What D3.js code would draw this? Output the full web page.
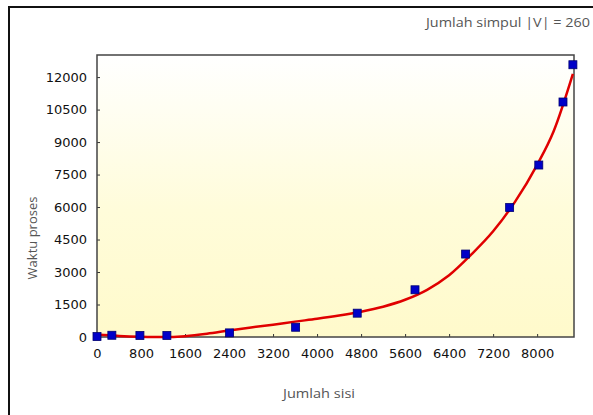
<!DOCTYPE html>
<html>
<head>
<meta charset="utf-8">
<script src="https://cdnjs.cloudflare.com/ajax/libs/d3/7.8.5/d3.min.js"></script>
<style>
  body { margin:0; background:#fff; }
  svg text { font-family: "DejaVu Sans", sans-serif; }
</style>
</head>
<body>
<div id="plot"></div>
<script>
// data
var edges = [0, 270, 780, 1270, 2410, 3610, 4730, 5780, 6700, 7500, 8030, 8470, 8650];
var times = [20, 80, 70, 70, 190, 450, 1100, 2180, 3830, 5980, 7940, 10850, 12570];

// red trend line
var trendX = [0, 400, 800, 1200, 1600, 2000, 2400, 2800, 3200, 3600, 4000, 4400, 4800, 5200, 5600, 6000, 6400, 6800, 7200, 7600, 8000, 8300, 8650];
var trendY = [110, 50, 15, 0, 40, 150, 300, 440, 570, 710, 840, 990, 1170, 1400, 1720, 2180, 2850, 3800, 4880, 6250, 7950, 9500, 12150];

var xTicks = [0, 800, 1600, 2400, 3200, 4000, 4800, 5600, 6400, 7200, 8000];
var yTicks = [0, 1500, 3000, 4500, 6000, 7500, 9000, 10500, 12000];

var W = 593, H = 415;
var m = {t:55, r:19, b:78, l:97};
var width = W - m.l - m.r, height = H - m.t - m.b;

var svg = d3.select('#plot').append('svg')
	.attr('width', W).attr('height', H);

var defs = svg.append('defs');
var grad = defs.append('linearGradient').attr('id','bg')
	.attr('x1',0).attr('y1',0).attr('x2',0).attr('y2',1);
grad.append('stop').attr('offset','0%').attr('stop-color','#ffffff');
grad.append('stop').attr('offset','55%').attr('stop-color','#fffcda');
grad.append('stop').attr('offset','100%').attr('stop-color','#fffacb');

// outer frame (left + top visible)
svg.append('path')
	.attr('d','M9,415 L9,7 L593,7')
	.attr('fill','none').attr('stroke','#111').attr('stroke-width',2);

svg.append('text')
	.attr('x', 590).attr('y', 27)
	.attr('text-anchor','end')
	.style('font-family','"Open Sans", sans-serif')
	.style('font-size','12px')
	.attr('fill','#555')
	.attr('textLength', 164).attr('lengthAdjust','spacingAndGlyphs')
	.text('Jumlah simpul |V| = 260');

var plot = svg.append('g')
	.attr('transform','translate('+m.l+','+m.t+')');

var x = d3.scaleLinear().domain([0, 8670]).range([0, width]);
var y = d3.scaleLinear().domain([0, 13020]).range([height, 0]);

plot.append('rect')
	.attr('width', width).attr('height', height)
	.attr('fill','url(#bg)');

// axes with short inward ticks
var xAxis = plot.append('g')
	.attr('transform','translate(0,'+height+')')
	.call(d3.axisBottom(x).tickValues(xTicks).tickFormat(d3.format('d')).tickSize(-3).tickPadding(12));
var yAxis = plot.append('g')
	.call(d3.axisLeft(y).tickValues(yTicks).tickFormat(d3.format('d')).tickSize(-3).tickPadding(10));

[xAxis, yAxis].forEach(function(a){
	a.select('.domain').remove();
	a.selectAll('line').attr('stroke','#333');
	a.selectAll('text').attr('fill','#111')
		.style('font-family','"DejaVu Sans", sans-serif')
		.style('font-size','13px');
});

plot.append('rect')
	.attr('width', width).attr('height', height)
	.attr('fill','none').attr('stroke','#444').attr('stroke-width',1.5);

// trend curve
var trend = trendX.map(function(d,i){ return [d, trendY[i]]; });
plot.append('path')
	.datum(trend)
	.attr('fill','none')
	.attr('stroke','#e00000')
	.attr('stroke-width',2.5)
	.attr('d', d3.line()
		.x(function(d){ return x(d[0]); })
		.y(function(d){ return y(d[1]); })
		.curve(d3.curveMonotoneX));

// data points
var pts = edges.map(function(d,i){ return {e:d, t:times[i]}; });
plot.selectAll('rect.pt')
	.data(pts).enter()
	.append('rect')
	.attr('class','pt')
	.attr('x', function(d){ return x(d.e) - 4; })
	.attr('y', function(d){ return y(d.t) - 4; })
	.attr('width', 8).attr('height', 8)
	.attr('fill','#0000c8')
	.attr('stroke','#000070').attr('stroke-width',0.8);

// axis titles
svg.append('text')
	.attr('x', 319).attr('y', 398)
	.attr('text-anchor','middle')
	.style('font-family','"Open Sans", sans-serif')
	.style('font-size','13px')
	.attr('fill','#555')
	.attr('textLength', 72).attr('lengthAdjust','spacingAndGlyphs')
	.text('Jumlah sisi');

svg.append('text')
	.attr('transform','translate(37,238) rotate(-90)')
	.attr('text-anchor','middle')
	.style('font-family','"Open Sans", sans-serif')
	.style('font-size','13px')
	.attr('fill','#555')
	.text('Waktu proses');
</script>
</body>
</html>
